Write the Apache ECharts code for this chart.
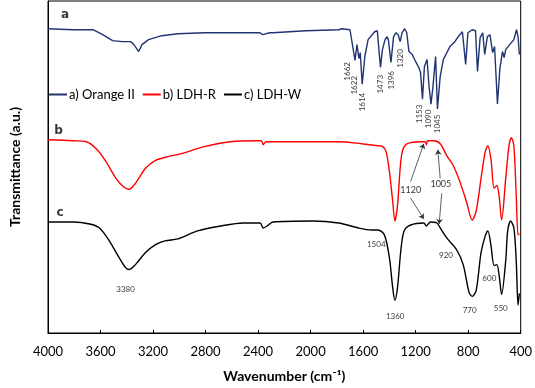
<!DOCTYPE html>
<html>
<head>
<meta charset="utf-8">
<script src="https://cdn.jsdelivr.net/npm/echarts@6/dist/echarts.min.js"></script>
<style>
  html, body { margin: 0; padding: 0; background: #fff; }
  #chart { width: 535px; height: 388px; }
</style>
</head>
<body>
<div id="chart"></div>
<script>
// [wavenumber (cm-1), transmittance (a.u., curves offset)]
var orangeII = [
  [4000, 307], [3808, 306], [3658, 306], [3583, 301], [3508, 295], [3433, 294],
  [3371, 294], [3346, 291], [3309, 284], [3284, 291], [3234, 296], [3134, 300],
  [3010, 302], [2810, 303], [2560, 303], [2385, 303], [2366, 301], [2311, 303],
  [2286, 303], [2037, 305], [1787, 306], [1762, 307], [1700, 306], [1687, 304],
  [1662, 275], [1647, 291], [1632, 277], [1622, 283], [1607, 251], [1587, 279],
  [1562, 296], [1512, 304], [1492, 305], [1468, 268], [1453, 286], [1433, 296],
  [1418, 299], [1408, 296], [1388, 273], [1368, 299], [1350, 303], [1333, 301],
  [1318, 294], [1303, 303], [1283, 307], [1268, 303], [1251, 284], [1226, 281],
  [1201, 274], [1176, 268], [1163, 263], [1148, 236], [1133, 269], [1113, 276],
  [1098, 249], [1083, 231], [1068, 249], [1048, 279], [1034, 226], [1013, 259],
  [989, 276], [939, 289], [901, 294], [876, 299], [844, 304], [819, 271],
  [802, 303], [769, 306], [744, 305], [729, 264], [709, 298], [689, 303],
  [674, 281], [654, 299], [634, 301], [614, 283], [599, 289], [577, 231],
  [559, 266], [539, 284], [526, 278], [514, 286], [484, 291], [452, 296],
  [432, 306], [420, 299], [410, 281]
];
var ldhR = [
  [4000, 195], [3808, 194], [3708, 193], [3633, 186], [3558, 173], [3483, 156],
  [3421, 147], [3384, 145], [3334, 151], [3259, 166], [3184, 174], [3085, 178],
  [2984, 181], [2810, 188], [2610, 193], [2411, 194], [2375, 194], [2361, 190],
  [2340, 193], [2286, 193], [2037, 193], [1787, 193], [1612, 191], [1487, 189],
  [1450, 188], [1425, 183], [1400, 163], [1375, 133], [1358, 113], [1338, 129],
  [1318, 166], [1300, 184], [1263, 191], [1163, 193], [1126, 193], [1118, 190],
  [1108, 194], [1063, 194], [1013, 191], [963, 179], [914, 169], [864, 153],
  [814, 133], [769, 114], [739, 123], [702, 156], [670, 183], [650, 189],
  [627, 176], [602, 146], [582, 149], [565, 139], [545, 114], [514, 156],
  [489, 189], [471, 197], [452, 189], [434, 139], [420, 99], [410, 100]
];
var ldhW = [
  [4000, 112], [3808, 112], [3683, 110], [3608, 106], [3533, 93], [3458, 76],
  [3409, 66], [3384, 64], [3334, 69], [3259, 81], [3184, 89], [3109, 93],
  [3010, 95], [2860, 103], [2685, 108], [2511, 111], [2385, 111], [2361, 106],
  [2330, 108], [2286, 112], [1986, 113], [1787, 111], [1637, 106], [1537, 104],
  [1487, 104], [1438, 99], [1400, 76], [1375, 46], [1358, 33], [1338, 46],
  [1313, 83], [1288, 103], [1238, 109], [1138, 111], [1118, 108], [1088, 112],
  [1038, 111], [1013, 106], [963, 96], [888, 84], [838, 69], [793, 41],
  [769, 37], [739, 43], [702, 81], [670, 98], [650, 103], [627, 89],
  [602, 68], [582, 69], [565, 59], [545, 39], [514, 73], [499, 103],
  [477, 113], [452, 106], [434, 73], [420, 28], [410, 40]
];

var seriesNames = ["a) Orange II", "b) LDH-R", "c) LDH-W"];

// peak labels: [wavenumber, transmittance, text]
var peakLabelsA = [
  [1717, 264, "1662"], [1667, 250, "1622"], [1607, 233, "1614"],
  [1468, 251, "1473"], [1388, 255, "1396"], [1313, 277, "1320"],
  [1171, 221, "1153"], [1101, 216, "1090"], [1031, 211, "1045"]
];
var peakLabelsC = [
  [3409, 44, "3380"], [1500, 89, "1504"], [1356, 17, "1360"],
  [969, 78, "920"], [789, 23, "770"], [639, 55, "600"], [552, 25, "550"]
];
var arrowLabels = [[1238, 144, "1120"], [1008, 150, "1005"]];
var arrows = [
  [[1238, 153], [1138, 191]], [[1238, 136], [1138, 115]],
  [[1013, 156], [1031, 185]], [[1001, 141], [1021, 110]]
];
var curveLetters = [[3870, 321, "a"], [3920, 204, "b"], [3908, 121, "c"]];

var font = "Lato, 'Open Sans', sans-serif";

function textSeries(items, opts) {
  return {
    type: "scatter",
    symbolSize: 0,
    silent: true,
    z: 5,
    data: items.map(function (d) { return { value: [d[0], d[1]], name: d[2] }; }),
    label: Object.assign({
      show: true,
      position: "inside",
      formatter: "{b}",
      color: "#000",
      fontFamily: font
    }, opts)
  };
}

var chart = echarts.init(document.getElementById("chart"));
chart.setOption({
  animation: false,
  grid: {
    left: 41, right: 13, top: 1, bottom: 52,
    show: true, borderColor: "#000", borderWidth: 1
  },
  legend: {
    top: 83, left: 44,
    itemWidth: 18, itemHeight: 2, itemGap: 8,
    icon: "rect",
    textStyle: { fontSize: 13, fontFamily: font, color: "#000", padding: [0, 0, 0, -3] },
    data: seriesNames
  },
  xAxis: {
    type: "value",
    min: 400, max: 4000, interval: 400,
    inverse: true,
    name: "Wavenumber (cm\u207B\u00B9)",
    nameLocation: "middle",
    nameGap: 36,
    nameTextStyle: { fontSize: 14, fontWeight: "bold", fontFamily: font, color: "#000" },
    axisLine: { lineStyle: { color: "#000", width: 1 } },
    axisTick: { inside: true, length: 3, lineStyle: { color: "#000" } },
    axisLabel: {
      fontSize: 13, fontFamily: font, color: "#000", margin: 12,
      formatter: function (v) { return String(v); }
    },
    splitLine: { show: false }
  },
  yAxis: {
    type: "value",
    min: 0, max: 335,
    name: "Transmittance (a.u.)",
    nameLocation: "middle",
    nameGap: 26,
    nameTextStyle: { fontSize: 14, fontWeight: "bold", fontFamily: font, color: "#000" },
    axisLine: { show: true, lineStyle: { color: "#000", width: 1 } },
    axisTick: { show: false },
    axisLabel: { show: false },
    splitLine: { show: false }
  },
  series: [
    {
      name: seriesNames[0], type: "line", data: orangeII, showSymbol: false,
      color: "#1F3470", lineStyle: { width: 1.4, color: "#1F3470" }
    },
    {
      name: seriesNames[1], type: "line", data: ldhR, showSymbol: false, smooth: 0.3,
      color: "#FF0000", lineStyle: { width: 1.4, color: "#FF0000" }
    },
    {
      name: seriesNames[2], type: "line", data: ldhW, showSymbol: false, smooth: 0.3,
      color: "#000000", lineStyle: { width: 1.4, color: "#000000" }
    },
    textSeries(peakLabelsA, { fontSize: 8, rotate: 90 }),
    textSeries(peakLabelsC, { fontSize: 8 }),
    textSeries(arrowLabels, { fontSize: 9 }),
    textSeries(curveLetters, { fontSize: 12, fontWeight: "bold", fontFamily: "'DejaVu Sans', sans-serif" }),
    {
      type: "lines",
      coordinateSystem: "cartesian2d",
      silent: true,
      symbol: ["none", "arrow"],
      symbolSize: 5,
      lineStyle: { color: "#333", width: 0.8, opacity: 1 },
      data: arrows.map(function (a) { return { coords: a }; })
    }
  ]
});
</script>
</body>
</html>
